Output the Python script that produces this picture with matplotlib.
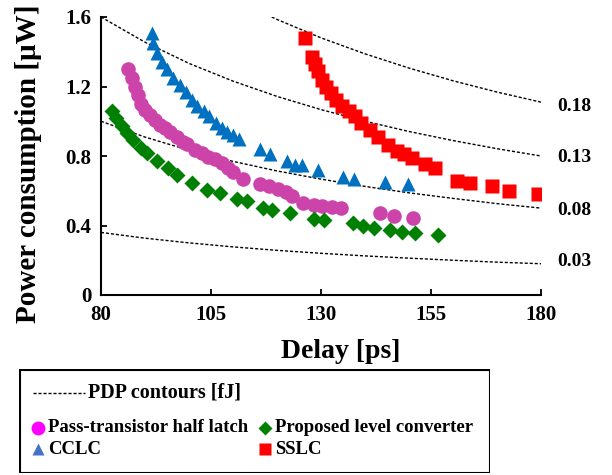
import matplotlib
matplotlib.use("Agg")
import matplotlib.pyplot as plt
from matplotlib.patches import Rectangle

plt.rcParams["font.family"] = "Liberation Serif"
plt.rcParams["font.weight"] = "bold"

# delay [ps] / power [uW]
pt_delay = [86.2, 87.0, 87.7, 88.5, 89.2, 90.0, 91.1, 92.3, 93.4, 94.5, 95.7, 97.2,
            98.7, 99.5, 101.4, 102.9, 104.4, 105.9, 107.4, 108.9, 110.1, 112.3,
            116.1, 118.2, 120.3, 122.0, 123.4, 126.0, 128.3, 130.3, 132.6, 134.5,
            143.4, 146.6, 151.0]
pt_power = [1.30, 1.25, 1.20, 1.15, 1.10, 1.065, 1.035, 1.005, 0.98, 0.96, 0.94, 0.91,
            0.88, 0.87, 0.835, 0.815, 0.795, 0.78, 0.76, 0.73, 0.71, 0.665,
            0.64, 0.625, 0.61, 0.59, 0.57, 0.53, 0.52, 0.512, 0.505, 0.50,
            0.47, 0.455, 0.445]

plc_delay = [82.4, 83.5, 84.7, 85.8, 87.3, 89.2, 90.4, 92.7, 95.3, 97.2, 100.6, 104.0,
             107.0, 110.8, 113.1, 116.9, 118.8, 123.0, 128.3, 130.7, 137.3, 139.6,
             142.1, 145.7, 148.3, 151.4, 156.7]
plc_power = [1.06, 1.02, 0.97, 0.93, 0.89, 0.845, 0.815, 0.77, 0.73, 0.69, 0.645, 0.605,
             0.585, 0.55, 0.54, 0.50, 0.49, 0.47, 0.44, 0.43, 0.415, 0.40,
             0.385, 0.375, 0.365, 0.355, 0.345]

cclc_delay = [91.5, 91.9, 92.7, 93.8, 95.1, 96.4, 98.0, 99.3, 100.6, 101.9, 103.3, 104.6,
              106.1, 107.4, 108.6, 110.1, 111.4, 116.1, 118.4, 122.2, 124.1, 125.6,
              129.4, 135.1, 137.4, 144.5, 149.8]
cclc_power = [1.51, 1.45, 1.39, 1.34, 1.30, 1.25, 1.21, 1.17, 1.12, 1.09, 1.06, 1.03,
              0.99, 0.96, 0.94, 0.92, 0.90, 0.84, 0.81, 0.77, 0.75, 0.75,
              0.72, 0.68, 0.67, 0.65, 0.64]

sslc_delay = [126.4, 127.9, 128.6, 129.3, 130.2, 131.2, 132.2, 133.4, 134.8, 136.3, 137.8,
              139.2, 141.1, 143.0, 145.3, 147.2, 148.9, 150.6, 153.6, 156.0, 160.8,
              163.9, 168.8, 172.8, 179.4]
sslc_power = [1.48, 1.37, 1.33, 1.29, 1.24, 1.20, 1.16, 1.12, 1.09, 1.06, 1.03,
              0.99, 0.95, 0.91, 0.865, 0.83, 0.81, 0.79, 0.755, 0.73, 0.655,
              0.645, 0.625, 0.60, 0.58]

# PDP contour lines
contour_labels = ["0.18", "0.13", "0.08", "0.03"]
contour_delay = [
    [118.8, 120, 130, 140, 150, 160, 170, 180],
    [80, 90, 100, 110, 120, 130, 140, 150, 160, 170, 180],
    [80, 90, 100, 110, 120, 130, 140, 150, 160, 170, 180],
    [80, 90, 100, 110, 120, 130, 140, 150, 160, 170, 180],
]
contour_power = [
    [1.600, 1.586, 1.480, 1.388, 1.306, 1.233, 1.168, 1.110],
    [1.600, 1.455, 1.333, 1.231, 1.143, 1.067, 1.000, 0.941, 0.889, 0.842, 0.800],
    [1.000, 0.909, 0.833, 0.769, 0.714, 0.667, 0.625, 0.588, 0.556, 0.526, 0.500],
    [0.360, 0.327, 0.300, 0.277, 0.257, 0.240, 0.225, 0.212, 0.200, 0.189, 0.180],
]
contour_label_y = [1.083, 0.792, 0.489, 0.192]

x_ticks = [80, 105, 130, 155, 180]
y_ticks = [0, 0.4, 0.8, 1.2, 1.6]
y_ticklabels = ["0", "0.4", "0.8", "1.2", "1.6"]

PINK = "#cc44aa"
GREEN = "#008000"
BLUE = "#0070c0"
RED = "#ff0000"

fig = plt.figure(figsize=(6.12, 4.75), dpi=100)
ax = fig.add_axes([101 / 612, 1 - 295 / 475, 440 / 612, 278 / 475])

for xs, ys in zip(contour_delay, contour_power):
    ax.plot(xs, ys, color="black", lw=1.0, dashes=(2.2, 1.4), zorder=1)
for lab, ly in zip(contour_labels, contour_label_y):
    ax.text(183.6, ly, lab, fontsize=14, fontweight="bold", ha="left", va="center",
            clip_on=False)

ax.plot(pt_delay, pt_power, "o", color=PINK, ms=10.5, mec="none", zorder=3)
ax.plot(plc_delay, plc_power, "D", color=GREEN, ms=8, mec="none", zorder=3)
ax.plot(cclc_delay, cclc_power, "^", color=BLUE, ms=10, mec="none", zorder=3)
ax.plot(sslc_delay, sslc_power, "s", color=RED, ms=10.5, mec="none", zorder=3)

ax.set_xlim(80, 180)
ax.set_ylim(0, 1.6)
ax.set_xticks(x_ticks)
ax.set_yticks(y_ticks)
ax.set_yticklabels(y_ticklabels)
ax.spines["top"].set_visible(False)
ax.spines["right"].set_visible(False)
for s in ("left", "bottom"):
    ax.spines[s].set_linewidth(1.5)
ax.tick_params(direction="in", length=4, width=1.3, labelsize=15, pad=7)
for lbl in ax.get_xticklabels() + ax.get_yticklabels():
    lbl.set_fontweight("bold")

fig.text(341 / 612, 1 - 352 / 475, "Delay [ps]", fontsize=20, fontweight="bold",
         ha="center", va="center")
fig.text(29 / 612, 1 - 164 / 475, "Power consumption [\u03bcW]", fontsize=21,
         fontweight="bold", rotation=90, ha="center", va="center")

# legend drawn by hand, local pixel coordinates
lax = fig.add_axes([19 / 612, 1 - 473 / 475, 471 / 612, 104 / 475])
lax.set_xlim(0, 471)
lax.set_ylim(104, 0)
lax.axis("off")
lax.add_patch(Rectangle((0.5, 0.5), 470, 103, fill=False, lw=1.5, ec="black"))
lax.plot([14, 66], [24, 24], color="black", lw=1.0, dashes=(2.2, 1.4))
lax.text(69, 24, "PDP contours [fJ]", fontsize=14.5, fontweight="bold", va="center")
legend_rows = [
    (19, 59, "o", "#ff00ff", 10, "Pass-transistor half latch"),
    (246, 59, "D", GREEN, 7, "Proposed level converter"),
    (19, 80, "^", "#4472c4", 9, "CCLC"),
    (246, 80, "s", RED, 9, "SSLC"),
]
for mx, my, mk, col, ms, txt in legend_rows:
    lax.plot([mx], [my], mk, color=col, ms=ms, mec="none")
    lax.text(mx + 10, my, txt, fontsize=13.5, fontweight="bold", va="center")

fig.savefig("out.png", dpi=100)
